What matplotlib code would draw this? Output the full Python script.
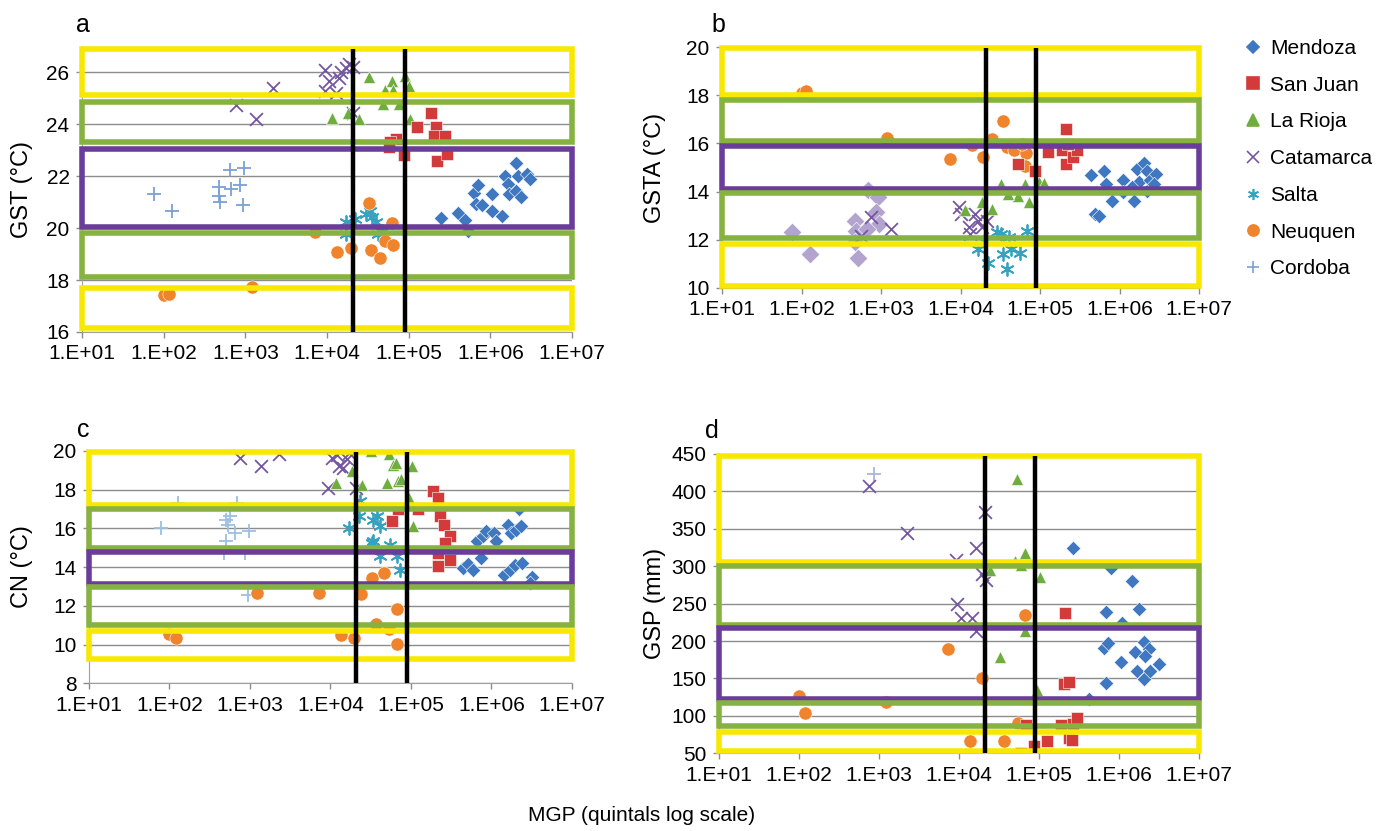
import numpy as np
import matplotlib
matplotlib.use("Agg")
import matplotlib.pyplot as plt
from matplotlib.patches import Rectangle
from matplotlib.lines import Line2D

plt.rcParams['font.family'] = ['Liberation Sans', 'DejaVu Sans']

# x values are log10 of MGP (quintals)
# ---- panel a: GST (degC)
a_mendoza = ([5.40, 5.61, 5.69, 5.80, 5.85, 5.82, 5.90, 6.02, 6.02, 6.14, 6.18, 6.22, 6.23, 6.31, 6.31, 6.34, 6.38, 6.45, 6.48, 5.73],
             [20.39, 20.58, 20.29, 21.34, 21.66, 20.93, 20.90, 21.31, 20.67, 20.48, 22.02, 21.70, 21.31, 22.50, 21.44, 21.99, 21.19, 22.08, 21.89, 19.90])
a_sanjuan = ([5.27, 5.10, 4.84, 4.77, 5.33, 5.31, 5.44, 5.35, 5.47, 4.94, 4.76],
             [24.44, 23.87, 23.42, 23.30, 23.87, 23.55, 23.55, 22.59, 22.85, 22.82, 23.10])
a_larioja = ([4.06, 4.26, 4.39, 4.51, 4.71, 4.79, 4.81, 4.95, 5.01, 5.02, 4.69, 4.88],
             [24.25, 24.44, 24.19, 25.81, 25.30, 25.66, 25.30, 25.85, 25.46, 24.19, 24.76, 24.76])
a_catamarca = ([3.34, 3.13, 2.89, 3.97, 4.02, 4.15, 4.17, 4.23, 4.27, 4.32, 3.97, 4.11, 4.32],
               [25.37, 24.19, 24.74, 26.08, 25.66, 25.78, 26.00, 26.17, 26.30, 26.20, 25.27, 25.20, 24.44])
a_salta = ([4.23, 4.34, 4.48, 4.55, 4.53, 4.60, 4.62, 4.23, 4.69],
           [20.23, 20.35, 20.55, 20.42, 20.67, 20.23, 19.78, 19.78, 19.90])
a_neuquen = ([2.00, 2.07, 3.08, 3.85, 4.12, 4.29, 4.51, 4.54, 4.65, 4.71, 4.81, 4.80],
             [17.42, 17.48, 17.74, 19.84, 19.08, 19.23, 20.97, 19.14, 18.86, 19.50, 19.33, 20.20])
a_cordoba = ([1.88, 2.10, 2.68, 2.68, 2.69, 2.82, 2.93, 2.81, 2.98, 2.97],
             [21.31, 20.67, 21.57, 21.25, 21.00, 21.50, 21.66, 22.23, 22.30, 20.87])

# ---- panel b: GSTA (degC)
b_mendoza = ([5.64, 5.81, 5.83, 5.69, 5.74, 5.91, 6.04, 6.04, 6.18, 6.22, 6.31, 6.25, 6.34, 6.34, 6.38, 6.46, 6.43, 6.15],
             [14.67, 14.87, 14.32, 13.06, 12.99, 13.62, 14.46, 13.97, 13.62, 14.94, 15.18, 14.39, 14.87, 14.04, 14.46, 14.71, 14.32, 14.18])
b_sanjuan = ([5.33, 5.10, 5.28, 5.33, 5.42, 5.47, 4.72, 4.94, 5.35],
             [16.62, 15.64, 15.71, 15.15, 15.43, 15.71, 15.15, 14.87, 15.99])
b_larioja = ([4.05, 4.27, 4.39, 4.51, 4.72, 4.81, 4.86, 4.99, 5.05, 4.60],
             [13.23, 13.55, 13.27, 14.32, 13.83, 14.32, 13.55, 14.39, 14.35, 13.90])
b_catamarca = ([4.00, 3.98, 4.10, 4.18, 4.22, 4.27, 4.33, 4.12, 2.87, 3.13, 2.75],
               [13.06, 13.34, 12.51, 13.06, 12.79, 12.51, 12.79, 12.23, 12.92, 12.44, 12.16])
b_salta = ([4.22, 4.34, 4.46, 4.51, 4.53, 4.59, 4.61, 4.64, 4.75, 4.84, 4.30],
           [11.60, 11.04, 12.30, 12.23, 11.39, 10.77, 12.09, 11.60, 11.46, 12.37, 11.95])
b_neuquen = ([2.00, 2.06, 3.08, 3.87, 4.14, 4.28, 4.39, 4.53, 4.58, 4.67, 4.82, 4.81, 4.77],
             [18.11, 18.19, 16.24, 15.36, 15.92, 15.43, 16.20, 16.94, 15.85, 15.71, 15.60, 15.06, 15.99])
b_cordoba = ([1.88, 2.11, 2.67, 2.69, 2.67, 2.71, 2.84, 2.96, 2.94, 2.98, 2.82],
             [12.30, 11.39, 12.79, 12.37, 11.88, 11.25, 14.07, 13.76, 13.13, 12.65, 12.44])

# ---- panel c: CN (degC)
c_mendoza = ([5.65, 5.71, 5.77, 5.82, 5.89, 5.93, 5.87, 6.03, 6.05, 6.21, 6.24, 6.31, 6.37, 6.16, 6.23, 6.29, 6.38, 6.50, 6.48, 6.34],
             [13.94, 14.16, 13.85, 15.32, 15.58, 15.84, 14.46, 15.76, 15.32, 16.19, 15.76, 15.93, 16.10, 13.59, 13.85, 14.11, 14.20, 13.50, 13.16, 16.97])
c_sanjuan = ([4.77, 4.84, 5.09, 5.27, 5.34, 5.36, 5.41, 5.48, 5.42, 5.34, 5.48, 5.34],
             [16.36, 16.97, 16.97, 17.92, 17.58, 16.62, 16.19, 15.58, 15.24, 14.72, 14.37, 14.03])
c_larioja = ([4.07, 4.27, 4.39, 4.50, 4.70, 4.73, 4.78, 4.81, 4.84, 4.88, 4.98, 5.01, 5.02],
             [18.32, 18.96, 18.22, 20.00, 18.32, 19.83, 19.26, 19.36, 18.44, 18.53, 17.58, 19.19, 16.10])
c_catamarca = ([2.88, 3.14, 3.36, 3.97, 4.02, 4.10, 4.15, 4.21, 4.32, 4.23, 4.08],
               [19.60, 19.19, 19.83, 18.10, 19.60, 19.22, 19.13, 19.57, 18.10, 19.90, 19.77])
c_salta = ([4.23, 4.36, 4.37, 4.53, 4.58, 4.62, 4.53, 4.51, 4.62, 4.74, 4.83, 4.86],
           [16.02, 16.62, 17.40, 16.45, 16.62, 16.10, 15.32, 15.24, 14.55, 15.15, 14.55, 13.85])
c_neuquen = ([1.99, 2.08, 3.09, 3.86, 4.13, 4.29, 4.38, 4.52, 4.67, 4.56, 4.73, 4.83, 4.83],
             [10.53, 10.34, 12.64, 12.64, 10.48, 10.34, 12.60, 13.42, 13.68, 11.08, 10.82, 11.86, 10.04])
c_cordoba = ([1.89, 2.11, 2.70, 2.70, 2.73, 2.75, 2.82, 2.84, 2.99, 2.98, 2.94, 2.68],
             [16.02, 17.32, 16.45, 15.32, 16.19, 16.62, 15.76, 17.32, 15.84, 12.55, 14.72, 14.72])

# ---- panel d: GSP (mm)
d_mendoza = ([5.42, 5.90, 6.16, 5.84, 6.25, 6.04, 5.81, 5.86, 6.03, 6.20, 6.31, 6.37, 6.32, 6.23, 6.31, 6.39, 6.50, 5.84, 5.63],
             [325, 297, 280, 239, 243, 224, 191, 197, 172, 185, 199, 189, 180, 160, 149, 160, 169, 144, 123])
d_sanjuan = ([5.32, 5.31, 5.37, 4.77, 4.94, 5.10, 4.84, 5.27, 5.42, 5.47, 5.37, 5.41],
             [238, 142, 145, 50, 60, 67, 88, 88, 89, 97, 70, 68])
d_larioja = ([4.72, 4.51, 4.39, 4.70, 4.82, 4.82, 5.01, 4.98, 4.77],
             [416, 179, 295, 307, 318, 214, 285, 135, 301])
d_catamarca = ([2.88, 3.35, 3.96, 3.97, 4.03, 4.16, 4.21, 4.21, 4.29, 4.33, 4.34],
               [407, 345, 308, 250, 231, 231, 325, 214, 290, 373, 281])
d_neuquen = ([2.00, 2.07, 3.09, 3.86, 4.29, 4.14, 4.56, 4.74, 4.83],
             [127, 104, 118, 190, 150, 67, 66, 90, 235])
d_cordoba = ([2.94], [423])

# threshold boxes (lower, upper) from top to bottom, and MGP threshold lines
a_bands = [(25.1, 26.9), (23.3, 24.85), (20.05, 23.05), (18.1, 19.8), (16.15, 17.7)]
b_bands = [(18.0, 19.95), (16.1, 17.8), (14.1, 15.9), (12.05, 13.95), (10.05, 11.8)]
c_bands = [(17.2, 19.95), (15.0, 17.0), (13.1, 14.75), (11.0, 12.95), (9.25, 10.7)]
d_bands = [(305, 447), (222, 300), (122, 218), (86, 117), (53, 78)]
thresholds = [2.1e4, 9.0e4]

provinces = ['Mendoza', 'San Juan', 'La Rioja', 'Catamarca', 'Salta', 'Neuquen', 'Cordoba']
colors = {'Mendoza': '#3f78c0', 'San Juan': '#d33b3b', 'La Rioja': '#6fae3e',
          'Catamarca': '#7457a0', 'Salta': '#35a2bf', 'Neuquen': '#f0842c',
          'Cordoba': '#7aa0d4'}
markers = {'Mendoza': 'D', 'San Juan': 's', 'La Rioja': '^', 'Catamarca': 'x',
           'Salta': (6, 2, 0), 'Neuquen': 'o', 'Cordoba': '+'}
sizes = {'Mendoza': 55, 'San Juan': 75, 'La Rioja': 75, 'Catamarca': 85,
         'Salta': 85, 'Neuquen': 90, 'Cordoba': 90}
band_colors = ['#f8e800', '#86b33f', '#6b3d9a', '#86b33f', '#f8e800']

fig = plt.figure(figsize=(13.88, 8.31), dpi=100)


def draw_panel(rect, series, bands, ylim, yticks, ylabel, letter, grid, ylab_x, letter_xy):
    ax = fig.add_axes(rect)
    ax.set_xscale('log')
    ax.set_xlim(1e1, 1e7)
    ax.set_ylim(*ylim)
    for name, (lx, yv), override in series:
        mk = markers[name]
        col = colors[name]
        if override:
            mk, col = override
        if mk in ('x', '+') or isinstance(mk, tuple):
            ax.scatter(10 ** np.array(lx), yv, marker=mk, s=sizes[name], color=col,
                       linewidths=1.3, zorder=2)
        else:
            ax.scatter(10 ** np.array(lx), yv, marker=mk, s=sizes[name], color=col,
                       edgecolors='white', linewidths=0.4, zorder=2)
    # boxes
    for (lo, hi), bc in zip(bands, band_colors):
        ax.add_patch(Rectangle((1e1, lo), 1e7 - 1e1, hi - lo, fill=False,
                               edgecolor=bc, linewidth=4, clip_on=False, zorder=3))
    top = bands[0][1]
    ax.vlines(thresholds, ylim[0], top, colors='black', linewidth=3.2, zorder=4)
    if grid:
        ax.yaxis.grid(True, color='#8c8c8c', linewidth=1.0, zorder=0)
        ax.set_axisbelow(True)
    ax.set_yticks(yticks)
    ax.set_xticks([10.0 ** k for k in range(1, 8)])
    ax.set_xticklabels(['1.E+0%d' % k for k in range(1, 8)])
    ax.minorticks_off()
    ax.tick_params(axis='both', labelsize=15, length=4, width=1, color='#8c8c8c', pad=5)
    for side in ('top', 'right'):
        ax.spines[side].set_visible(False)
    for side in ('left', 'bottom'):
        ax.spines[side].set_color('#a0a0a0')
    ax.set_ylabel(ylabel, fontsize=17)
    ax.yaxis.set_label_coords(ylab_x, 0.5)
    ax.text(letter_xy[0], letter_xy[1], letter, transform=ax.transAxes,
            fontsize=18, ha='left', va='baseline')
    return ax


draw_panel([0.0591, 0.6005, 0.3530, 0.3440],
           [('Catamarca', a_catamarca, None), ('Cordoba', a_cordoba, None),
            ('Salta', a_salta, None), ('Neuquen', a_neuquen, None),
            ('La Rioja', a_larioja, None), ('San Juan', a_sanjuan, None),
            ('Mendoza', a_mendoza, None)],
           a_bands, (16, 27), [16, 18, 20, 22, 24, 26], 'GST (°C)', 'a', True,
           -0.100, (-0.012, 1.05))

draw_panel([0.5202, 0.6538, 0.3437, 0.2893],
           [('Cordoba', b_cordoba, ('D', '#b2a3cf')), ('Catamarca', b_catamarca, None),
            ('Salta', b_salta, None), ('La Rioja', b_larioja, None),
            ('Neuquen', b_neuquen, None), ('San Juan', b_sanjuan, None),
            ('Mendoza', b_mendoza, None)],
           b_bands, (10, 20), [10, 12, 14, 16, 18, 20], 'GSTA (°C)', 'b', False,
           -0.117, (-0.023, 1.065))

draw_panel([0.0641, 0.1777, 0.3480, 0.2799],
           [('Cordoba', c_cordoba, ('+', '#9cbfe3')), ('Catamarca', c_catamarca, None),
            ('Salta', c_salta, None), ('Neuquen', c_neuquen, None),
            ('La Rioja', c_larioja, None), ('San Juan', c_sanjuan, None),
            ('Mendoza', c_mendoza, None)],
           c_bands, (8, 20), [8, 10, 12, 14, 16, 18, 20], 'CN (°C)', 'c', True,
           -0.116, (-0.025, 1.059))

draw_panel([0.5180, 0.0935, 0.3458, 0.3602],
           [('Cordoba', d_cordoba, ('+', '#a9b6dc')), ('Catamarca', d_catamarca, None),
            ('Neuquen', d_neuquen, None), ('La Rioja', d_larioja, None),
            ('San Juan', d_sanjuan, None), ('Mendoza', d_mendoza, None)],
           d_bands, (50, 450), list(range(50, 451, 50)), 'GSP (mm)', 'd', True,
           -0.110, (-0.029, 1.053))

handles = [Line2D([], [], linestyle='none', marker=markers[p], color=colors[p],
                  markersize=6 if markers[p] == 'D' else 8, markeredgewidth=1.2)
           for p in provinces]
fig.legend(handles, provinces, loc='upper left', bbox_to_anchor=(0.895, 0.953),
           frameon=False, fontsize=15, handlelength=1.0, handletextpad=0.35,
           labelspacing=0.85, borderpad=0, borderaxespad=0)

fig.text(0.4625, 0.019, 'MGP (quintals log scale)', fontsize=15, ha='center', va='center')

fig.savefig('out.png', dpi=100)
